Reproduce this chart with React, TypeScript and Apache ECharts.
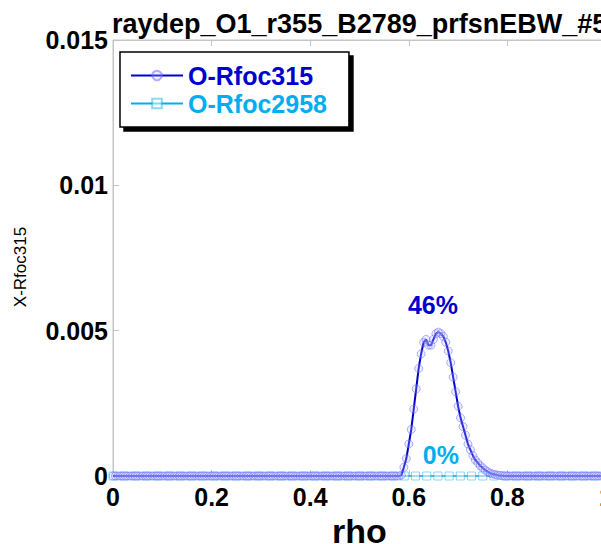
import React, { useEffect, useRef } from "react";
import * as echarts from "echarts";

const titleText = "raydep_O1_r355_B2789_prfsnEBW_#5";
const seriesNames = ["O-Rfoc315", "O-Rfoc2958"];
const yTicks = [0, 0.005, 0.01, 0.015];
const xTicks = [0, 0.2, 0.4, 0.6, 0.8, 1];
const shares = ["46%", "0%"];

const rhoBlue = [
  0, 0.005, 0.01, 0.015, 0.02, 0.025, 0.03, 0.035, 0.04, 0.045,
  0.05, 0.055, 0.06, 0.065, 0.07, 0.075, 0.08, 0.085, 0.09, 0.095,
  0.1, 0.105, 0.11, 0.115, 0.12, 0.125, 0.13, 0.135, 0.14, 0.145,
  0.15, 0.155, 0.16, 0.165, 0.17, 0.175, 0.18, 0.185, 0.19, 0.195,
  0.2, 0.205, 0.21, 0.215, 0.22, 0.225, 0.23, 0.235, 0.24, 0.245,
  0.25, 0.255, 0.26, 0.265, 0.27, 0.275, 0.28, 0.285, 0.29, 0.295,
  0.3, 0.305, 0.31, 0.315, 0.32, 0.325, 0.33, 0.335, 0.34, 0.345,
  0.35, 0.355, 0.36, 0.365, 0.37, 0.375, 0.38, 0.385, 0.39, 0.395,
  0.4, 0.405, 0.41, 0.415, 0.42, 0.425, 0.43, 0.435, 0.44, 0.445,
  0.45, 0.455, 0.46, 0.465, 0.47, 0.475, 0.48, 0.485, 0.49, 0.495,
  0.5, 0.505, 0.51, 0.515, 0.52, 0.525, 0.53, 0.535, 0.54, 0.545,
  0.55, 0.555, 0.56, 0.565, 0.57, 0.575, 0.58, 0.585, 0.59, 0.595,
  0.6, 0.605, 0.61, 0.615, 0.62, 0.625, 0.63, 0.635, 0.64, 0.645,
  0.65, 0.655, 0.66, 0.665, 0.67, 0.675, 0.68, 0.685, 0.69, 0.695,
  0.7, 0.705, 0.71, 0.715, 0.72, 0.725, 0.73, 0.735, 0.74, 0.745,
  0.75, 0.755, 0.76, 0.765, 0.77, 0.775, 0.78, 0.785, 0.79, 0.795,
  0.8, 0.805, 0.81, 0.815, 0.82, 0.825, 0.83, 0.835, 0.84, 0.845,
  0.85, 0.855, 0.86, 0.865, 0.87, 0.875, 0.88, 0.885, 0.89, 0.895,
  0.9, 0.905, 0.91, 0.915, 0.92, 0.925, 0.93, 0.935, 0.94, 0.945,
  0.95, 0.955, 0.96, 0.965, 0.97, 0.975, 0.98, 0.985, 0.99, 0.995,
  1,
];

const xRfoc315 = [
  0, 0, 0, 0, 0, 0, 0, 0, 0, 0,
  0, 0, 0, 0, 0, 0, 0, 0, 0, 0,
  0, 0, 0, 0, 0, 0, 0, 0, 0, 0,
  0, 0, 0, 0, 0, 0, 0, 0, 0, 0,
  0, 0, 0, 0, 0, 0, 0, 0, 0, 0,
  0, 0, 0, 0, 0, 0, 0, 0, 0, 0,
  0, 0, 0, 0, 0, 0, 0, 0, 0, 0,
  0, 0, 0, 0, 0, 0, 0, 0, 0, 0,
  0, 0, 0, 0, 0, 0, 0, 0, 0, 0,
  0, 0, 0, 0, 0, 0, 0, 0, 0, 0,
  0, 0, 0, 0, 0, 0, 0, 0, 0, 0,
  0, 0, 0, 0, 0, 0, 0, 0.00003, 0.0003, 0.0006,
  0.0011, 0.0016, 0.0023, 0.003, 0.0037, 0.0042, 0.0046, 0.0047, 0.0045, 0.0045,
  0.0047, 0.0049, 0.00495, 0.0049, 0.0048, 0.0046, 0.0043, 0.0039, 0.0034, 0.0029,
  0.0024, 0.002, 0.0017, 0.0014, 0.0011, 0.0009, 0.0007, 0.00055, 0.00045, 0.00035,
  0.00028, 0.0002, 0.00015, 0.0001, 0.00007, 0.00005, 0.00003, 0.00002, 0.00001, 0,
  0, 0, 0, 0, 0, 0, 0, 0, 0, 0,
  0, 0, 0, 0, 0, 0, 0, 0, 0, 0,
  0, 0, 0, 0, 0, 0, 0, 0, 0, 0,
  0, 0, 0, 0, 0, 0, 0, 0, 0, 0,
  0,
];

const rhoCyan = [
  0, 0.0227, 0.0455, 0.0682, 0.0909, 0.1136, 0.1364, 0.1591, 0.1818, 0.2045,
  0.2273, 0.25, 0.2727, 0.2955, 0.3182, 0.3409, 0.3636, 0.3864, 0.4091, 0.4318,
  0.4545, 0.4773, 0.5, 0.5227, 0.5455, 0.5682, 0.5909, 0.6136, 0.6364, 0.6591,
  0.6818, 0.7045, 0.7273, 0.75, 0.7727, 0.7955, 0.8182, 0.8409, 0.8636, 0.8864,
  0.9091, 0.9318, 0.9545, 0.9773, 1,
];

const xRfoc2958 = [
  0, 0, 0, 0, 0, 0, 0, 0, 0, 0,
  0, 0, 0, 0, 0, 0, 0, 0, 0, 0,
  0, 0, 0, 0, 0, 0, 0, 0, 0, 0,
  0, 0, 0, 0, 0, 0, 0, 0, 0, 0,
  0, 0, 0, 0, 0,
];

// annotation anchor points (data coordinates)
const shareAnchors = [
  [0.649, 0.0059],
  [0.665, 0.00072],
];

const BLUE = "#0000CD";
const CYAN = "#00AEEF";
const FONT = "'Liberation Sans', Arial, Helvetica, sans-serif";
const GREY = "#c4c4c4";

export default function App() {
  const ref = useRef<HTMLDivElement>(null);

  useEffect(() => {
    if (!ref.current) return;
    const chart = echarts.init(ref.current, undefined, { renderer: "svg" });
    const fmt = (v: number) => String(parseFloat(v.toFixed(4)));

    const option: any = {
      animation: false,
      backgroundColor: "#ffffff",
      textStyle: { fontFamily: FONT },
      title: {
        text: titleText,
        left: 112,
        top: 10,
        padding: 0,
        textStyle: {
          fontFamily: FONT,
          fontSize: 27,
          fontWeight: "bold",
          color: "#000",
        },
      },
      legend: {
        orient: "vertical",
        left: 120,
        top: 52,
        padding: [11, 22, 11, 10],
        itemGap: 3,
        itemWidth: 52,
        itemHeight: 12,
        backgroundColor: "#ffffff",
        borderColor: "#000",
        borderWidth: 1.5,
        borderRadius: 0,
        shadowColor: "#000",
        shadowBlur: 0,
        shadowOffsetX: 4,
        shadowOffsetY: 4,
        data: [
          { name: seriesNames[0], textStyle: { color: BLUE } },
          { name: seriesNames[1], textStyle: { color: CYAN } },
        ],
        textStyle: {
          fontFamily: FONT,
          fontSize: 25,
          fontWeight: "bold",
        },
      },
      grid: {
        left: 113,
        top: 40,
        right: -5,
        bottom: 68,
        show: true,
        borderColor: GREY,
        borderWidth: 1,
        containLabel: false,
        outerBoundsMode: "none",
      },
      xAxis: [
        {
          type: "value",
          min: xTicks[0],
          max: xTicks[xTicks.length - 1],
          interval: 0.2,
          name: "rho",
          nameLocation: "middle",
          nameGap: 34,
          nameTextStyle: {
            fontFamily: FONT,
            fontSize: 34,
            fontWeight: "bold",
            color: "#000",
          },
          axisLine: { show: true, lineStyle: { color: GREY } },
          axisTick: { show: true, inside: true, length: 6, lineStyle: { color: GREY } },
          splitLine: { show: false },
          axisLabel: {
            margin: 8,
            fontFamily: FONT,
            fontSize: 25,
            fontWeight: "bold",
            color: "#000",
            formatter: fmt,
          },
        },
        {
          type: "value",
          position: "top",
          min: xTicks[0],
          max: xTicks[xTicks.length - 1],
          interval: 0.2,
          axisLine: { show: true, lineStyle: { color: GREY } },
          axisTick: { show: true, inside: true, length: 6, lineStyle: { color: GREY } },
          axisLabel: { show: false },
          splitLine: { show: false },
        },
      ],
      yAxis: {
        type: "value",
        min: yTicks[0],
        max: yTicks[yTicks.length - 1],
        interval: 0.005,
        name: "X-Rfoc315",
        nameLocation: "middle",
        nameGap: 84,
        nameRotate: 90,
        nameTextStyle: {
          fontFamily: FONT,
          fontSize: 17,
          color: "#000",
          padding: [0, 18, 0, 0],
        },
        axisLine: { show: true, lineStyle: { color: GREY } },
        axisTick: { show: true, inside: true, length: 6, lineStyle: { color: GREY } },
        splitLine: { show: false },
        axisLabel: {
          margin: 5,
          fontFamily: FONT,
          fontSize: 25,
          fontWeight: "bold",
          color: "#000",
          formatter: fmt,
        },
      },
      series: [
        {
          name: seriesNames[1],
          type: "line",
          xAxisIndex: 0,
          data: rhoCyan.map((r, i) => [r, xRfoc2958[i]]),
          symbol: "rect",
          symbolSize: 8,
          showAllSymbol: true,
          lineStyle: { color: CYAN, width: 1.5 },
          itemStyle: {
            color: "rgba(255,255,255,0.5)",
            borderColor: "rgba(0,170,230,0.45)",
            borderWidth: 1,
          },
          z: 2,
          markPoint: {
            symbol: "circle",
            symbolSize: 1,
            itemStyle: { color: "rgba(0,0,0,0)" },
            label: {
              show: true,
              position: "inside",
              fontFamily: FONT,
              fontSize: 25,
              fontWeight: "bold",
              color: CYAN,
              formatter: shares[1],
            },
            data: [{ coord: shareAnchors[1] }],
          },
        },
        {
          name: seriesNames[0],
          type: "line",
          xAxisIndex: 0,
          data: rhoBlue.map((r, i) => [r, xRfoc315[i]]),
          symbol: "circle",
          symbolSize: 8,
          showAllSymbol: true,
          lineStyle: { color: BLUE, width: 2 },
          itemStyle: {
            color: "rgba(190,190,255,0.25)",
            borderColor: "rgba(100,100,255,0.5)",
            borderWidth: 1,
          },
          z: 3,
          markPoint: {
            symbol: "circle",
            symbolSize: 1,
            itemStyle: { color: "rgba(0,0,0,0)" },
            label: {
              show: true,
              position: "inside",
              fontFamily: FONT,
              fontSize: 25,
              fontWeight: "bold",
              color: BLUE,
              formatter: shares[0],
            },
            data: [{ coord: shareAnchors[0] }],
          },
        },
      ],
    };

    chart.setOption(option);
    return () => chart.dispose();
  }, []);

  return (
    <div
      ref={ref}
      style={{
        position: "absolute",
        left: 0,
        top: 0,
        width: 601,
        height: 544,
        background: "#fff",
        overflow: "hidden",
      }}
    />
  );
}
